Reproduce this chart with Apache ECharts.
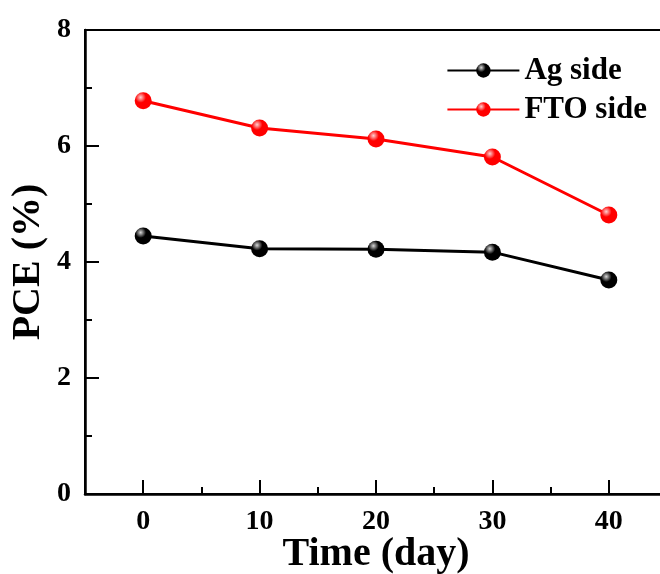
<!DOCTYPE html>
<html>
<head>
<meta charset="utf-8">
<script src="https://cdn.jsdelivr.net/npm/echarts@6/dist/echarts.min.js"></script>
<style>
  html, body { margin: 0; padding: 0; background: #fff; }
  #chart { width: 660px; height: 574px; }
</style>
</head>
<body>
<div id="chart"></div>
<script>
  // days
  var days = [0, 10, 20, 30, 40]
  var agSide = [4.45, 4.23, 4.22, 4.17, 3.69]
  var ftoSide = [6.78, 6.31, 6.12, 5.81, 4.81]
  var seriesNames = ['Ag side', 'FTO side']
  var majorDays = [0, 10, 20, 30, 40]
  var minorDays = [5, 15, 25, 35]

  var font = '"Liberation Serif", "Times New Roman", serif'

  function ball(base, hi) { // sphere look for the markers
    return new echarts.graphic.RadialGradient(0.35, 0.3, 0.7, [
      { offset: 0, color: hi },
      { offset: 0.45, color: base },
      { offset: 1, color: base }
    ])
  }

  function pairs(arr) {
    var out = []
    for (var i = 0; i < days.length; i++) {
      out.push([days[i], arr[i]])
    }
    return out
  }

  var chart = echarts.init(document.getElementById('chart'))
  var option = {
    animation: false,
    textStyle: { fontFamily: font },
    grid: {
      left: 85, top: 30, right: -7, bottom: 80,
      outerBoundsMode: 'none',
      containLabel: false,
      show: true, borderColor: '#000', borderWidth: 2
    },
    legend: {
      right: 8, top: 50,
      orient: 'vertical',
      itemWidth: 72, itemHeight: 18, itemGap: 8,
      textStyle: { fontFamily: font, fontWeight: 'bold', fontSize: 31, color: '#000' },
      data: seriesNames
    },
    xAxis: [{
      type: 'value',
      position: 'bottom',
      min: -5, max: 45,
      name: 'Time (day)',
      nameLocation: 'middle',
      nameGap: 41,
      nameMoveOverlap: false,
      nameTextStyle: { fontFamily: font, fontWeight: 'bold', fontSize: 40, color: '#000' },
      axisLine: { show: true, onZero: false, lineStyle: { color: '#000', width: 2.5 } },
      axisTick: { show: true, inside: true, length: 14, customValues: majorDays, lineStyle: { color: '#000', width: 2 } },
      axisLabel: {
        margin: 14, fontFamily: font, fontWeight: 'bold', fontSize: 28, color: '#000',
        customValues: majorDays
      },
      splitLine: { show: false }
    }, {
      // minor ticks only
      type: 'value',
      position: 'bottom',
      min: -5, max: 45,
      axisLine: { show: false, onZero: false },
      axisTick: { show: true, inside: true, length: 7, customValues: minorDays, lineStyle: { color: '#000', width: 2 } },
      axisLabel: { show: false },
      splitLine: { show: false }
    }],
    yAxis: {
      type: 'value',
      min: 0, max: 8, interval: 2,
      name: 'PCE (%)',
      nameLocation: 'middle',
      nameGap: 36,
      nameMoveOverlap: false,
      nameTextStyle: { fontFamily: font, fontWeight: 'bold', fontSize: 40, color: '#000' },
      axisLine: { show: true, onZero: false, lineStyle: { color: '#000', width: 2.5 } },
      axisTick: { show: true, inside: true, length: 14, lineStyle: { color: '#000', width: 2 } },
      minorTick: { show: true, splitNumber: 2, length: 7, lineStyle: { color: '#000', width: 2 } },
      axisLabel: { margin: 14, fontFamily: font, fontWeight: 'bold', fontSize: 28, color: '#000' },
      splitLine: { show: false }
    },
    series: [
      {
        name: seriesNames[0],
        type: 'line',
        data: pairs(agSide),
        symbol: 'circle',
        symbolSize: 17,
        lineStyle: { color: '#000', width: 3 },
        itemStyle: { color: ball('#000', '#d8d8d8'), borderWidth: 0 }
      },
      {
        name: seriesNames[1],
        type: 'line',
        data: pairs(ftoSide),
        symbol: 'circle',
        symbolSize: 17,
        lineStyle: { color: '#ff0000', width: 3 },
        itemStyle: { color: ball('#ff0000', '#ffd0d0'), borderWidth: 0 }
      }
    ]
  }
  chart.setOption(option)
</script>
</body>
</html>
